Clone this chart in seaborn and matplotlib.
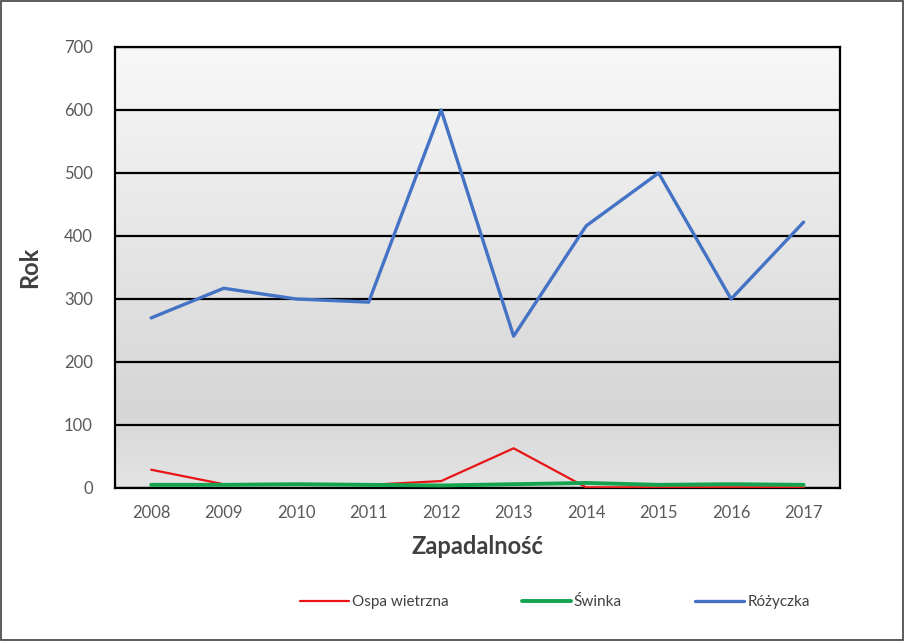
import matplotlib
matplotlib.use("Agg")
import matplotlib.pyplot as plt
import seaborn as sns
import numpy as np
import pandas as pd
from matplotlib.colors import LinearSegmentedColormap
from matplotlib.lines import Line2D

years = ["2008", "2009", "2010", "2011", "2012", "2013", "2014", "2015", "2016", "2017"]
ospa = [29, 6, 6, 5, 11, 63, 1, 1, 1, 1]
swinka = [5, 5, 6, 5, 4, 6, 8, 5, 6, 5]
rozyczka = [270, 317, 300, 295, 600, 241, 416, 500, 300, 422]

series_names = ["Ospa wietrzna", "Świnka", "Różyczka"]
colors = {"Ospa wietrzna": "#e81416", "Świnka": "#16a34f", "Różyczka": "#4472c4"}
widths = {"Ospa wietrzna": 1.6, "Świnka": 2.8, "Różyczka": 2.4}

df = pd.DataFrame({
    "Rok": years * 3,
    "x": list(range(len(years))) * 3,
    "value": ospa + swinka + rozyczka,
    "series": [series_names[0]] * 10 + [series_names[1]] * 10 + [series_names[2]] * 10,
})

sns.set_theme(style="white")
plt.rcParams["font.family"] = ["Lato", "DejaVu Sans"]

fig = plt.figure(figsize=(9.05, 6.41), dpi=100)
ax = fig.add_axes([0.127, 0.2387, 0.801, 0.688])

# gradient background
cmap = LinearSegmentedColormap.from_list(
    "bg", [(0.0, "#e4e4e4"), (0.18, "#d6d6d6"), (1.0, "#f8f8f8")])
grad = np.linspace(0, 1, 256).reshape(-1, 1)
ax.imshow(grad, aspect="auto", cmap=cmap, origin="lower",
          extent=(-0.5, 9.5, 0, 700), zorder=0)

for name in series_names:
    sub = df[df["series"] == name]
    sns.lineplot(data=sub, x="x", y="value", color=colors[name],
                 linewidth=widths[name], ax=ax, zorder=3, legend=False)

ax.set_xlim(-0.5, 9.5)
ax.set_ylim(0, 700)
ax.set_yticks(range(0, 701, 100))
ax.set_xticks(range(len(years)))
ax.set_xticklabels(years)
ax.yaxis.grid(True, color="black", linewidth=1.6, zorder=1)
ax.set_axisbelow(False)
for line in ax.get_ygridlines():
    line.set_zorder(1)
ax.tick_params(axis="both", colors="#595959", labelsize=12, length=0, pad=12)
ax.tick_params(axis="y", pad=16)
for sp in ax.spines.values():
    sp.set_visible(True)
    sp.set_color("black")
    sp.set_linewidth(1.6)

ax.set_xlabel("Zapadalność", fontsize=17, fontweight="bold", color="#404040", labelpad=10)
ax.set_ylabel("Rok", fontsize=17, fontweight="bold", color="#404040", labelpad=16)

handles = [Line2D([0], [0], color=colors[n], linewidth=widths[n]) for n in series_names]
fig.legend(handles, series_names, loc="center", bbox_to_anchor=(0.613, 0.061),
           ncol=3, frameon=False, fontsize=11, handlelength=3.2,
           columnspacing=4.8, handletextpad=0.2, labelcolor="#404040")

fig.patches.append(plt.Rectangle((0.001, 0.001), 0.997, 0.997, transform=fig.transFigure,
                                 fill=False, edgecolor="#404040", linewidth=1.2))

fig.savefig("out.png", dpi=100, facecolor="white")
